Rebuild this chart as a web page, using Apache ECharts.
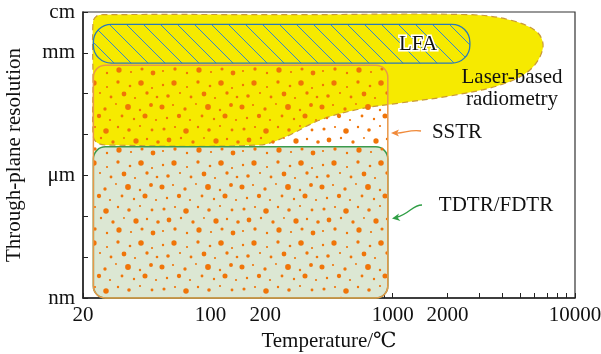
<!DOCTYPE html>
<html>
<head>
<meta charset="utf-8">
<script src="https://cdn.jsdelivr.net/npm/echarts@6/dist/echarts.min.js"></script>
<style>
  html, body { margin: 0; padding: 0; background: #fff; }
  #main { width: 601px; height: 354px; }
</style>
</head>
<body>
<div id="main"></div>
<script>
// temperature in degC, through-plane resolution in nm
var xTicks = [20, 30, 40, 50, 60, 70, 80, 90, 100, 200, 300, 400, 500, 600, 700, 800, 900,
  1000, 2000, 3000, 4000, 5000, 6000, 7000, 8000, 9000, 10000];
var xLabels = [20, 100, 200, 1000, 2000, 10000];
var yTicks = [1, 10, 100, 1e3, 1e4, 1e5, 1e6, 1e7];
var yLabelValues = [1, 1e3, 1e6, 1e7];
var yLabelNames = ['nm', 'μm', 'mm', 'cm'];

// rounded boxes
var boxNames = ['TDTR/FDTR', 'SSTR', 'LFA'];
var boxTempLow = [22.8, 22.8, 22.8];
var boxTempHigh = [940, 940, 2650];
var boxResLow = [1, 1, 5.6e5];
var boxResHigh = [5e3, 5e5, 5e6];

// outline of the laser-based radiometry region
var radiometryTemp = [22.7, 22.7, 23.7, 25.8, 310, 2650, 4400, 6190, 6670, 5660,
  3880, 2060, 1100, 660, 400, 257, 187, 26.4, 23.6, 22.7];
var radiometryRes = [2.17e5, 5.6e6, 7.9e6, 8.6e6, 8.6e6, 8.6e6, 6.37e6, 3.24e6, 1.32e6, 3.81e5,
  1.63e5, 8.79e4, 5.93e4, 4.23e4, 2.28e4, 8730, 5560, 5560, 6580, 9770];

var FONT = '"Liberation Serif", "DejaVu Serif", serif';
var lg = Math.log10;

// dotted texture (SSTR), 80x80 tile
var dots = [
  [3,5,1.0],[14,3,2.2],[27,7,0.9],[38,2,1.4],[50,6,1.1],[61,3,2.3],[72,8,0.9],
  [8,16,1.5],[20,13,0.9],[31,17,1.2],[44,14,2.0],[55,18,0.9],[67,13,1.4],[77,17,1.1],
  [2,27,2.1],[13,25,0.9],[25,29,1.4],[36,24,0.8],[48,27,2.4],[60,30,1.0],[71,25,1.6],
  [7,38,1.0],[19,36,1.8],[30,40,0.9],[42,36,1.2],[54,39,1.0],[65,36,2.1],[76,40,0.9],
  [4,49,1.3],[15,47,0.9],[26,51,2.3],[38,47,1.0],[49,50,1.5],[60,46,0.9],[72,50,1.2],
  [9,60,2.0],[21,58,1.0],[33,62,1.4],[44,58,0.8],[56,61,2.2],[67,59,1.0],[78,62,1.5],
  [3,71,0.9],[15,69,1.4],[27,73,1.0],[39,70,2.2],[51,72,0.9],[62,69,1.3],[73,73,2.0]];
var dotCanvas = document.createElement('canvas');
dotCanvas.width = dotCanvas.height = 80;
var dctx = dotCanvas.getContext('2d');
dctx.fillStyle = '#f07408';
dots.forEach(function (d) {
  for (var ox = -80; ox <= 80; ox += 80) {
    for (var oy = -80; oy <= 80; oy += 80) {
      dctx.beginPath();
      dctx.arc(d[0] + ox, d[1] + oy, d[2] * 1.2, 0, Math.PI * 2);
      dctx.fill();
    }
  }
});

// hatch texture (LFA)
var hatchCanvas = document.createElement('canvas');
hatchCanvas.width = hatchCanvas.height = 17;
var hctx = hatchCanvas.getContext('2d');
hctx.strokeStyle = '#3588c8';
hctx.lineWidth = 1;
hctx.beginPath();
hctx.moveTo(-2, -2); hctx.lineTo(19, 19);
hctx.moveTo(-2, 15); hctx.lineTo(2, 19);
hctx.moveTo(15, -2); hctx.lineTo(19, 2);
hctx.stroke();

var boxStyles = [
  { fill: '#dce7d3', stroke: '#3c9a4c', lineWidth: 1.5 },
  { fill: { image: dotCanvas, repeat: 'repeat' }, stroke: '#e8984a', lineWidth: 1.5 },
  { fill: { image: hatchCanvas, repeat: 'repeat' }, stroke: '#2a78b8', lineWidth: 1.3 }
];
var boxRadius = [12, 12, 18];

var boxData = boxNames.map(function (n, i) {
  return [lg(boxTempLow[i]), lg(boxTempHigh[i]), lg(boxResLow[i]), lg(boxResHigh[i])];
});

function labelName(v) {
  for (var i = 0; i < yLabelValues.length; i++) {
    if (Math.abs(lg(yLabelValues[i]) - v) < 1e-6) return yLabelNames[i];
  }
  return '';
}

var option = {
  animation: false,
  grid: {
    left: 83, right: 26, top: 12, bottom: 56,
    outerBoundsMode: 'none',
    show: true, borderColor: '#333', borderWidth: 1.2
  },
  xAxis: {
    type: 'value',
    min: lg(20), max: 4,
    name: 'Temperature/℃',
    nameLocation: 'middle',
    nameGap: 32,
    nameTextStyle: { fontFamily: FONT, fontSize: 21, color: '#111' },
    axisLine: { lineStyle: { color: '#222', width: 1.5 } },
    axisTick: { inside: true, length: 5, lineStyle: { color: '#222' },
      customValues: xTicks.map(lg) },
    axisLabel: { fontFamily: FONT, fontSize: 21, color: '#111', margin: 7,
      customValues: xLabels.map(lg),
      formatter: function (v) { return String(Math.round(Math.pow(10, v))); } },
    splitLine: { show: false }
  },
  yAxis: {
    type: 'value',
    min: 0, max: 7,
    name: 'Through-plane resolution',
    nameLocation: 'middle',
    nameGap: 58,
    nameTextStyle: { fontFamily: FONT, fontSize: 21, color: '#111' },
    axisLine: { lineStyle: { color: '#222', width: 1.5 } },
    axisTick: { inside: true, length: 5, lineStyle: { color: '#222' },
      customValues: yTicks.map(lg) },
    axisLabel: { fontFamily: FONT, fontSize: 21, color: '#111', margin: 8,
      customValues: yLabelValues.map(lg),
      formatter: labelName },
    splitLine: { show: false }
  },
  series: [{
    type: 'custom',
    name: 'Laser-based radiometry',
    data: [[lg(radiometryTemp[0]), lg(radiometryRes[0])]],
    encode: { x: 0, y: 1 },
    renderItem: function (params, api) {
      var pts = radiometryTemp.map(function (t, i) {
        return api.coord([lg(t), lg(radiometryRes[i])]);
      });
      return {
        type: 'polygon',
        shape: { points: pts, smooth: 0.35 },
        style: { fill: '#f6ea00', stroke: '#c99838', lineWidth: 1.2, lineDash: [6, 4] }
      };
    }
  }, {
    type: 'custom',
    name: 'methods',
    data: boxData,
    encode: { x: [0, 1], y: [2, 3] },
    renderItem: function (params, api) {
      var i = params.dataIndex;
      var p0 = api.coord([api.value(0), api.value(3)]);
      var p1 = api.coord([api.value(1), api.value(2)]);
      return {
        type: 'rect',
        shape: { x: p0[0], y: p0[1], width: p1[0] - p0[0], height: p1[1] - p0[1], r: boxRadius[i] },
        style: boxStyles[i]
      };
    }
  }],
  graphic: [
    { type: 'text', x: 418, y: 44, z: 100,
      style: { text: 'LFA', font: '21px ' + FONT, fill: '#111', stroke: '#fff', lineWidth: 3,
        strokeFirst: true, align: 'center', verticalAlign: 'middle' } },
    { type: 'text', x: 512, y: 77, z: 100,
      style: { text: 'Laser-based', font: '21px ' + FONT, fill: '#111', align: 'center', verticalAlign: 'middle' } },
    { type: 'text', x: 512, y: 99, z: 100,
      style: { text: 'radiometry', font: '21px ' + FONT, fill: '#111', align: 'center', verticalAlign: 'middle' } },
    { type: 'text', x: 457, y: 132, z: 100,
      style: { text: 'SSTR', font: '21px ' + FONT, fill: '#111', align: 'center', verticalAlign: 'middle' } },
    { type: 'text', x: 496, y: 205, z: 100,
      style: { text: 'TDTR/FDTR', font: '21px ' + FONT, fill: '#111', align: 'center', verticalAlign: 'middle' } },
    { type: 'bezierCurve', z: 100,
      shape: { x1: 421, y1: 131, cpx1: 410, cpy1: 129, cpx2: 403, cpy2: 134, x2: 395, y2: 133 },
      style: { stroke: '#f08a3a', lineWidth: 1.3, fill: null } },
    { type: 'polygon', z: 100,
      shape: { points: [[391, 133], [399, 129.5], [397, 133], [399, 136.5]] },
      style: { fill: '#f08a3a' } },
    { type: 'bezierCurve', z: 100,
      shape: { x1: 422, y1: 205, cpx1: 412, cpy1: 205, cpx2: 410, cpy2: 214, x2: 396, y2: 217.5 },
      style: { stroke: '#2f9e45', lineWidth: 1.3, fill: null } },
    { type: 'polygon', z: 100,
      shape: { points: [[392, 218.5], [399, 213.5], [397.5, 217.5], [400.5, 221]] },
      style: { fill: '#2f9e45' } }
  ]
};

var chart = echarts.init(document.getElementById('main'), null, { renderer: 'canvas' });
chart.setOption(option);
</script>
</body>
</html>
